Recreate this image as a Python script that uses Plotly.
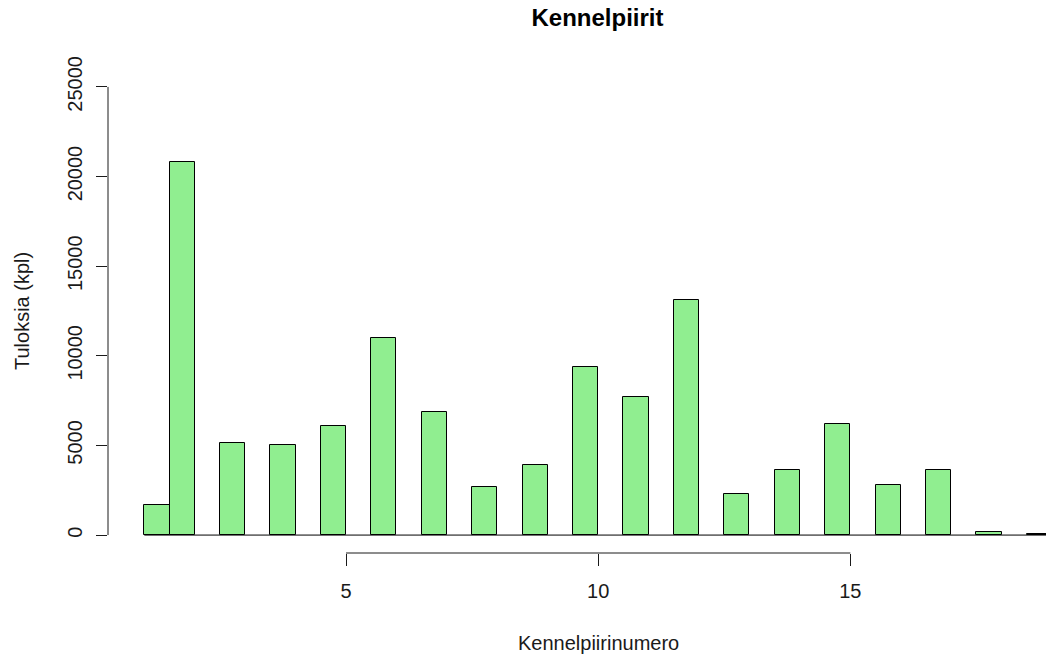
import numpy as np
import plotly.graph_objects as go

# Results per kennel district (district number -> number of results)
districts = [1, 2, 3, 4, 5, 6, 7, 8, 9, 10, 11, 12, 13, 14, 15, 16, 17, 18, 19]
results = [1700, 20800, 5120, 5040, 6080, 11000, 6860, 2700, 3900, 9380,
           7700, 13100, 2290, 3630, 6200, 2790, 3610, 150, 80]

x_ticks = [5, 10, 15]
y_ticks = [0, 5000, 10000, 15000, 20000, 25000]
x_tick_labels = ["5", "10", "15"]
y_tick_labels = ["0", "5000", "10000", "15000", "20000", "25000"]

BIN = 0.5
d = np.array(districts, dtype=float)
# right-closed bins of width 0.5 starting at the first district (lowest value included)
left = np.where(d == d.min(), d, d - BIN)
centers = left + BIN / 2

W, H = 1046, 657
FONT = "Liberation Sans, Arial, sans-serif"
INK = "#1a1a1a"

fig = go.Figure()
fig.add_trace(go.Bar(
    x=centers, y=results, width=BIN,
    marker=dict(color="#90EE90", line=dict(color="black", width=1)),
    hoverinfo="skip", showlegend=False,
))

x_lo, x_hi = 0.28, 0.28 + (W - 108) / 50.43

fig.update_layout(
    width=W, height=H,
    margin=dict(l=108, r=0, t=69, b=104),
    plot_bgcolor="white", paper_bgcolor="white",
    font=dict(family=FONT, size=20, color=INK),
    title=dict(text="<b>Kennelpiirit</b>", font=dict(size=24, color="black"),
               xref="container", x=597.5 / W, xanchor="center",
               yref="container", y=1 - 18 / H, yanchor="middle"),
    bargap=0,
    xaxis=dict(range=[x_lo, x_hi], tickvals=x_ticks, ticktext=x_tick_labels,
               ticks="outside", ticklen=12, tickwidth=1, tickcolor=INK,
               showline=False, showgrid=False, zeroline=False, ticklabelstandoff=8),
    yaxis=dict(range=[-1000, 26000], tickvals=y_ticks, ticktext=y_tick_labels,
               ticks="outside", ticklen=11, tickwidth=1, tickcolor=INK,
               showline=False, showgrid=False, zeroline=False, tickangle=-90,
               ticklabelstandoff=6),
    shapes=[
        # detached axis lines spanning the tick range
        dict(type="line", xref="x", yref="paper", x0=x_ticks[0], x1=x_ticks[-1],
             y0=0, y1=0, line=dict(color=INK, width=1)),
        dict(type="line", xref="paper", yref="y", x0=0, x1=0,
             y0=y_ticks[0], y1=y_ticks[-1], line=dict(color=INK, width=1)),
        # outline of the empty bins along the baseline
        dict(type="line", xref="x", yref="y", x0=float(left.min()),
             x1=float(left.max() + BIN), y0=0, y1=0,
             line=dict(color="black", width=1), layer="below"),
    ],
    annotations=[
        dict(text="Kennelpiirinumero", xref="x", x=10, yref="paper",
             y=-(643 - 553) / (553 - 69), xanchor="center", yanchor="middle",
             showarrow=False, font=dict(size=20, color=INK)),
        dict(text="Tuloksia (kpl)", xref="paper", x=-(108 - 22) / (W - 108),
             yref="paper", y=0.5, xanchor="center", yanchor="middle",
             textangle=-90, showarrow=False, font=dict(size=20, color=INK)),
    ],
)

fig.write_html("out.html")
